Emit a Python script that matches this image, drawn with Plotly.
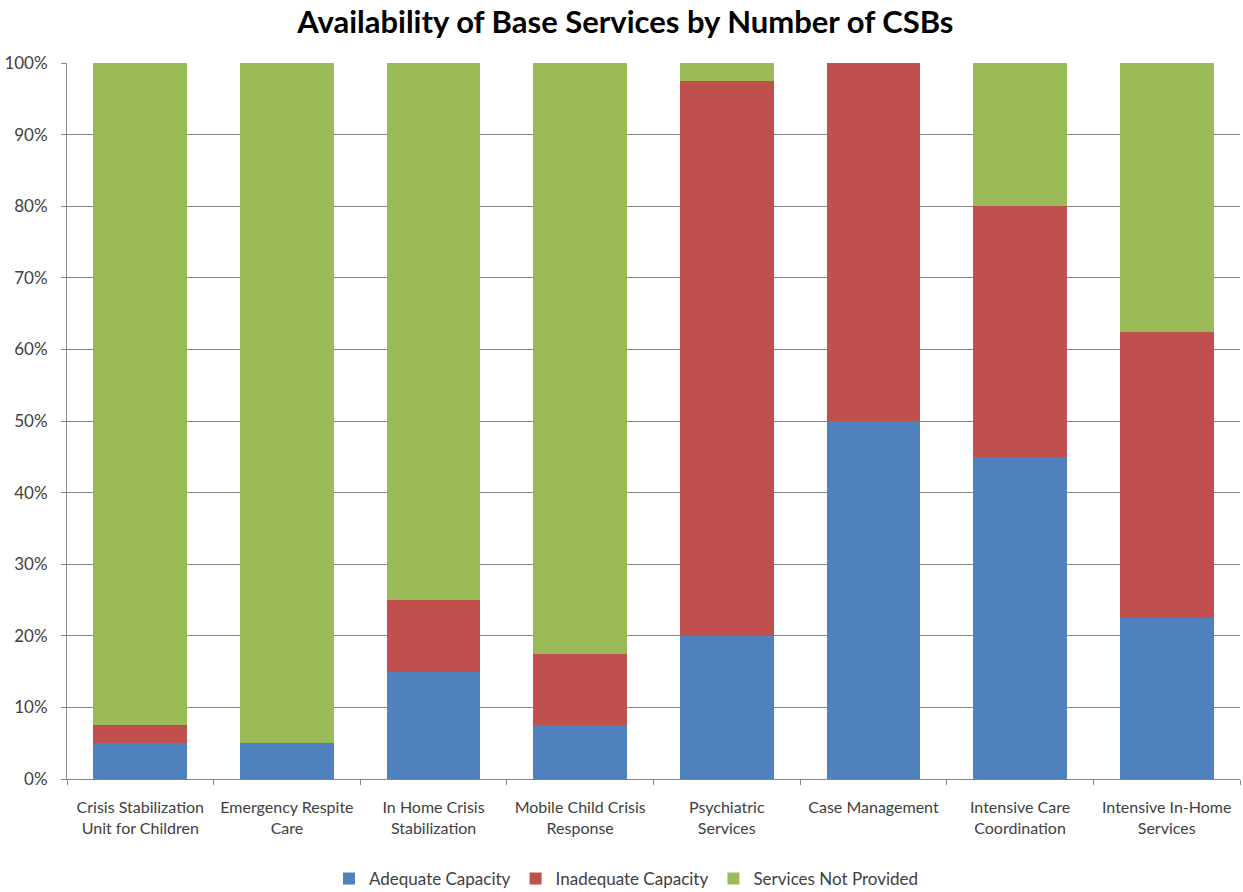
import plotly.graph_objects as go

categories = ["Crisis Stabilization<br>Unit for Children", "Emergency Respite<br>Care",
              "In Home Crisis<br>Stabilization", "Mobile Child Crisis<br>Response",
              "Psychiatric<br>Services", "Case Management", "Intensive Care<br>Coordination",
              "Intensive In-Home<br>Services"]
adequate = [5, 5, 15, 7.5, 20, 50, 45, 22.5]
inadequate = [2.5, 0, 10, 10, 77.5, 50, 35, 40]
not_provided = [92.5, 95, 75, 82.5, 2.5, 0, 20, 37.5]
series = [("Adequate Capacity", adequate, "#4F81BD"),
          ("Inadequate Capacity", inadequate, "#C0504D"),
          ("Services Not Provided", not_provided, "#9BBB59")]
y_ticks = list(range(0, 101, 10))
y_labels = [f"{v}%" for v in y_ticks]

font = "Lato, Open Sans, sans-serif"
fig = go.Figure()
for name, vals, color in series:
    fig.add_trace(go.Bar(x=categories, y=vals, name=name, marker_color=color,
                         marker_line_width=0))

fig.update_layout(
    barmode="stack", bargap=0.36,
    width=1243, height=892,
    margin=dict(l=67, r=3, t=63, b=113, autoexpand=False),
    paper_bgcolor="white", plot_bgcolor="white",
    font=dict(family=font, size=17, color="#404040"),
    title=dict(text="<b>Availability of Base Services by Number of CSBs</b>",
               x=0.503, xanchor="center", y=0.975, yanchor="middle",
               font=dict(size=31, color="#000000", family=font)),
    legend=dict(orientation="h", xref="container", yref="container",
                x=0.504, xanchor="center", y=0.0146, yanchor="middle",
                font=dict(size=17), traceorder="normal", itemwidth=30),
)
fig.update_xaxes(showline=True, linecolor="#868686", linewidth=1,
                 ticks="outside", tickson="boundaries", ticklen=5, tickcolor="#868686",
                 tickfont=dict(size=16), tickangle=0, showgrid=False, ticklabelstandoff=14)
fig.update_yaxes(range=[0, 100], tickvals=y_ticks, ticktext=y_labels,
                 showline=True, linecolor="#868686", linewidth=1,
                 ticks="outside", ticklen=5, tickcolor="#868686",
                 showgrid=True, gridcolor="#868686", gridwidth=1,
                 tickfont=dict(size=17), zeroline=False, ticklabelstandoff=10)
fig.write_html("out.html")
